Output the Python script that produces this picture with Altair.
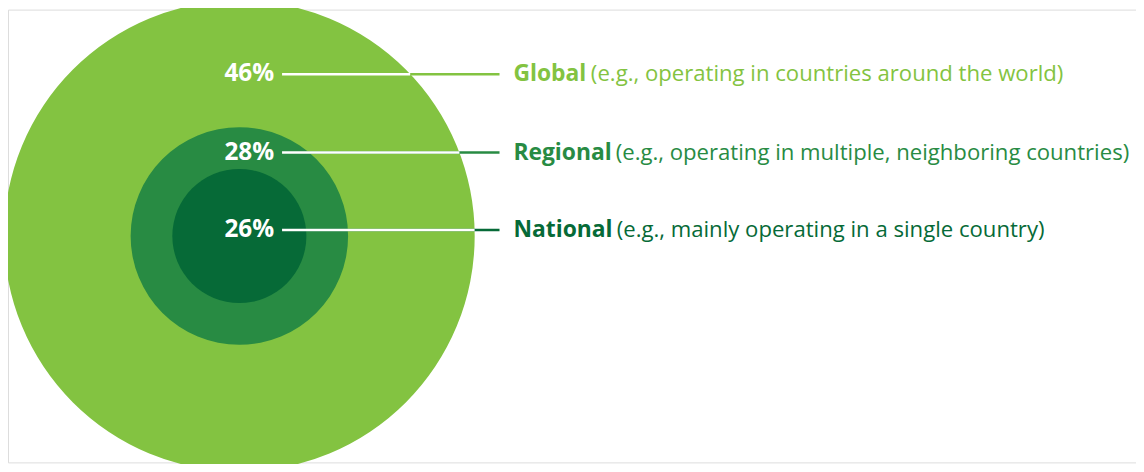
import math
import altair as alt
import pandas as pd

# ---- data ----
categories = ["Global", "Regional", "National"]
descriptions = [
    "(e.g., operating in countries around the world)",
    "(e.g., operating in multiple, neighboring countries)",
    "(e.g., mainly operating in a single country)",
]
shares = [46, 28, 26]
colors = ["#83C341", "#288B43", "#066A37"]

# ---- layout (page pixel coordinates) ----
CX, CY = 240, 236
radii = [237, 109.5, 67.5]
row_y = [73, 152, 230]
pct_x = 275
line_x0, line_x1 = 283, 502
name_x = 516
desc_x = [594, 619, 620]
FONT = "Open Sans"

circles = pd.DataFrame({
    "cx": [CX] * 3,
    "cy": [CY] * 3,
    "size": [(2 * r) ** 2 for r in radii],  # vega symbol: diameter = sqrt(size)
    "color": colors,
    "cat": categories,
})

rows = pd.DataFrame({
    "cat": categories,
    "y": row_y,
    "pct": [f"{s}%" for s in shares],
    "desc": descriptions,
    "color": colors,
    "x0": [line_x0] * 3,
    "x1": [line_x1] * 3,
    "xw": [CX + math.sqrt(radii[0] ** 2 - (y - CY) ** 2) for y in row_y],
    "px": [pct_x] * 3,
    "nx": [name_x] * 3,
    "dx": desc_x,
})

xs = alt.Scale(domain=[7, 1143], range=[0, 1136])
ys = alt.Scale(domain=[464, 8], range=[456, 0])
X = lambda f: alt.X(f, type="quantitative", scale=xs, axis=None)
Y = alt.Y("y:Q", scale=ys, axis=None)

circ = alt.Chart(circles).mark_point(filled=True, opacity=1, shape="circle", strokeWidth=0).encode(
    x=alt.X("cx:Q", scale=xs, axis=None),
    y=alt.Y("cy:Q", scale=ys, axis=None),
    size=alt.Size("size:Q", scale=None),
    color=alt.Color("color:N", scale=None),
    order=alt.Order("size:Q", sort="descending"),
)

base = alt.Chart(rows)
cline = base.mark_rule(strokeWidth=2.5).encode(
    x=X("x0"), x2="x1", y=Y, color=alt.Color("color:N", scale=None)
)
wline = base.mark_rule(strokeWidth=2.5, color="white").encode(
    x=X("x0"), x2="xw", y=Y
)
pct = base.mark_text(align="right", baseline="middle", font=FONT, fontWeight="bold",
                     fontSize=24.5, color="white").encode(x=X("px"), y=Y, text="pct:N")
name = base.mark_text(align="left", baseline="middle", font=FONT, fontWeight="bold",
                      fontSize=23).encode(x=X("nx"), y=Y, text="cat:N",
                                          color=alt.Color("color:N", scale=None))
desc = base.mark_text(align="left", baseline="middle", font=FONT,
                      fontSize=22.3).encode(x=X("dx"), y=Y, text="desc:N",
                                            color=alt.Color("color:N", scale=None))

chart = alt.layer(circ, cline, wline, pct, name, desc).properties(
    width=1136, height=456, padding=0,
    autosize=alt.AutoSizeParams(type="none"),
).configure_view(stroke="transparent", strokeWidth=0, clip=False).configure(background="white")

chart.save("out.html", embed_options={"renderer": "svg", "actions": False})
